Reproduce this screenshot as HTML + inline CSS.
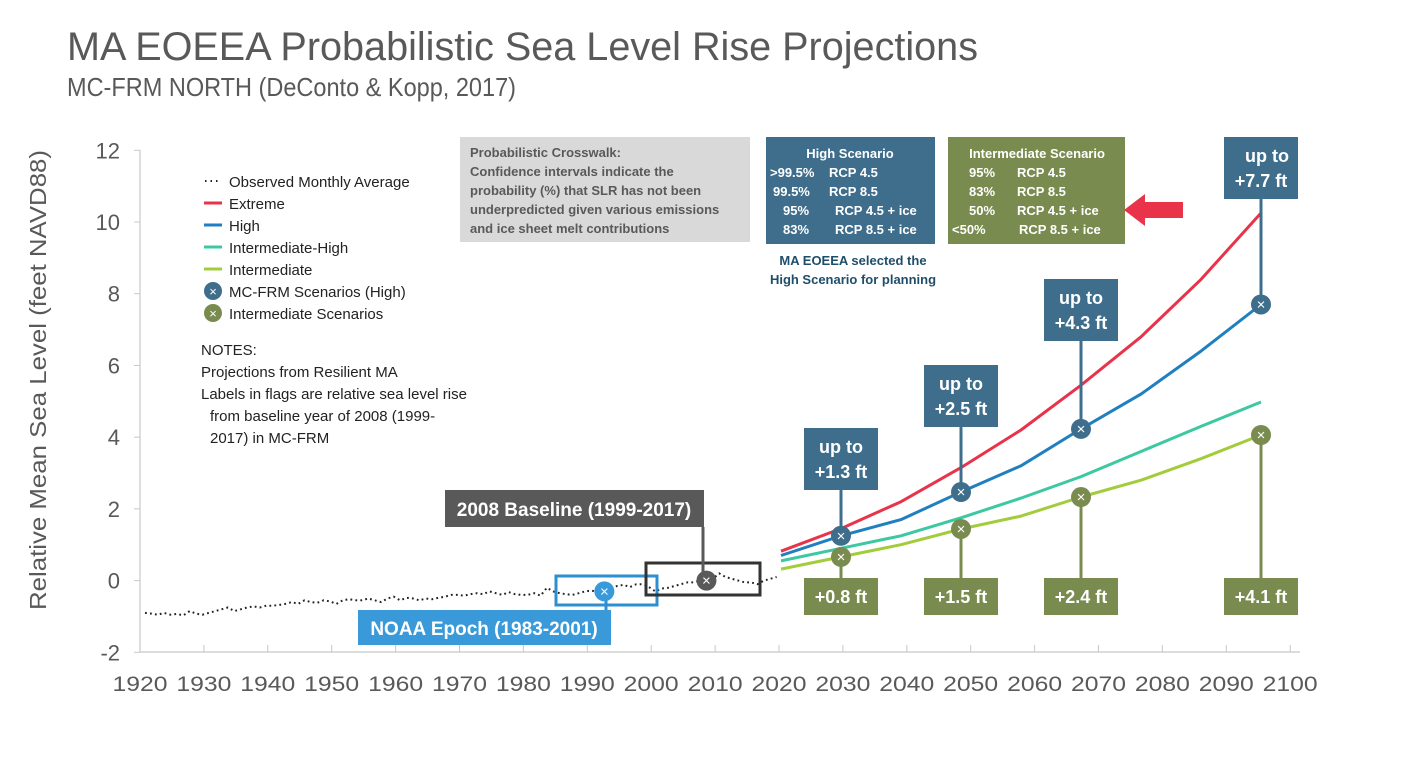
<!DOCTYPE html>
<html><head><meta charset="utf-8"><style>
html,body{margin:0;padding:0;background:#fff;}
svg{display:block;font-family:"Liberation Sans",sans-serif;}
</style></head><body>
<svg id="chart" width="1417" height="759" viewBox="0 0 1417 759">
<text x="67" y="60" font-size="40" fill="#595959" textLength="911" lengthAdjust="spacingAndGlyphs">MA EOEEA Probabilistic Sea Level Rise Projections</text>
<text x="67" y="96" font-size="26" fill="#595959" textLength="449" lengthAdjust="spacingAndGlyphs">MC-FRM NORTH (DeConto &amp; Kopp, 2017)</text>
<text transform="translate(46,380) rotate(-90)" text-anchor="middle" font-size="23" fill="#595959" textLength="460" lengthAdjust="spacingAndGlyphs">Relative Mean Sea Level (feet NAVD88)</text>
<g id="axes"></g>
<g id="series"></g>

<g font-size="15" fill="#222">
<line x1="205" y1="181" x2="220" y2="181" stroke="#222" stroke-width="2" stroke-dasharray="1.5 4"/>
<text x="229" y="187">Observed Monthly Average</text>
<line x1="204" y1="203" x2="222" y2="203" stroke="#e8334a" stroke-width="3"/>
<text x="229" y="209">Extreme</text>
<line x1="204" y1="225" x2="222" y2="225" stroke="#1f7fc0" stroke-width="3"/>
<text x="229" y="231">High</text>
<line x1="204" y1="247" x2="222" y2="247" stroke="#3cc8a0" stroke-width="3"/>
<text x="229" y="253">Intermediate-High</text>
<line x1="204" y1="269" x2="222" y2="269" stroke="#a3cc3c" stroke-width="3"/>
<text x="229" y="275">Intermediate</text>
<circle cx="213" cy="291" r="9" fill="#3f6e8c"/>
<text x="213" y="296" text-anchor="middle" fill="#fff" font-size="13">×</text>
<text x="229" y="297">MC-FRM Scenarios (High)</text>
<circle cx="213" cy="313" r="9" fill="#7a8b4f"/>
<text x="213" y="318" text-anchor="middle" fill="#fff" font-size="13">×</text>
<text x="229" y="319">Intermediate Scenarios</text>
</g>
<g font-size="15" fill="#222">
<text x="201" y="355">NOTES:</text>
<text x="201" y="377">Projections from Resilient MA</text>
<text x="201" y="399">Labels in flags are relative sea level rise</text>
<text x="210" y="421">from baseline year of 2008 (1999-</text>
<text x="210" y="443">2017) in MC-FRM</text>
</g>

<g>
<rect x="460" y="137" width="290" height="105" fill="#d9d9d9"/>
<g font-size="13" font-weight="bold" fill="#595959">
<text x="470" y="157">Probabilistic Crosswalk:</text>
<text x="470" y="176">Confidence intervals indicate the</text>
<text x="470" y="195">probability (%) that SLR has not been</text>
<text x="470" y="214">underpredicted given various emissions</text>
<text x="470" y="233">and ice sheet melt contributions</text>
</g></g>
<g>
<rect x="766" y="137" width="169" height="107" fill="#3f6e8c"/>
<g font-size="13" font-weight="bold" fill="#fff">
<text x="850" y="158" text-anchor="middle">High Scenario</text>
<text x="770" y="177">&gt;99.5%</text><text x="829" y="177">RCP 4.5</text>
<text x="773" y="196">99.5%</text><text x="829" y="196">RCP 8.5</text>
<text x="783" y="215">95%</text><text x="835" y="215">RCP 4.5 + ice</text>
<text x="783" y="234">83%</text><text x="835" y="234">RCP 8.5 + ice</text>
</g></g>
<g font-size="13" font-weight="bold" fill="#1f4e6b">
<text x="853" y="265" text-anchor="middle">MA EOEEA selected the</text>
<text x="853" y="284" text-anchor="middle">High Scenario for planning</text>
</g>
<g>
<rect x="948" y="137" width="177" height="107" fill="#7a8b4f"/>
<g font-size="13" font-weight="bold" fill="#fff">
<text x="1037" y="158" text-anchor="middle">Intermediate Scenario</text>
<text x="969" y="177">95%</text><text x="1017" y="177">RCP 4.5</text>
<text x="969" y="196">83%</text><text x="1017" y="196">RCP 8.5</text>
<text x="969" y="215">50%</text><text x="1017" y="215">RCP 4.5 + ice</text>
<text x="952" y="234">&lt;50%</text><text x="1019" y="234">RCP 8.5 + ice</text>
</g></g>
<polygon points="1124,210 1145,194 1145,202 1183,202 1183,218 1145,218 1145,226" fill="#e8334a"/>

<rect x="556" y="576" width="101" height="29" fill="none" stroke="#2e8fd0" stroke-width="3"/>
<rect x="646" y="563" width="114" height="32" fill="none" stroke="#333" stroke-width="3"/>
<g id="flags"></g>
</svg>
<script>
// ---- data ----
const yTicks = [-2, 0, 2, 4, 6, 8, 10, 12];
const xTickLabels = [1920,1930,1940,1950,1960,1970,1980,1990,2000,2010,2020,2030,2040,2050,2060,2070,2080,2090,2100];
const obsStartYear = 1920;
const observed = [-0.9,-0.92,-0.95,-0.9,-0.95,-0.93,-0.97,-0.85,-0.92,-0.95,
-0.9,-0.85,-0.8,-0.75,-0.85,-0.8,-0.75,-0.72,-0.75,-0.7,
-0.7,-0.68,-0.65,-0.6,-0.65,-0.55,-0.6,-0.62,-0.55,-0.58,
-0.65,-0.55,-0.52,-0.55,-0.55,-0.5,-0.55,-0.6,-0.5,-0.45,
-0.55,-0.48,-0.5,-0.55,-0.5,-0.52,-0.48,-0.45,-0.4,-0.4,
-0.42,-0.38,-0.35,-0.38,-0.3,-0.35,-0.4,-0.32,-0.38,-0.4,
-0.4,-0.35,-0.42,-0.2,-0.3,-0.35,-0.38,-0.4,-0.35,-0.3,
-0.28,-0.32,-0.3,-0.2,-0.15,-0.12,-0.18,-0.1,-0.1,-0.18,
-0.3,-0.22,-0.2,-0.15,-0.1,-0.05,-0.05,0.0,0.0,0.05,
0.2,0.1,0.05,0.0,-0.05,-0.05,-0.1,0.0,0.05,0.1];
const projYears = [2020,2030,2040,2050,2060,2070,2080,2090,2100];
const extreme = [0.82,1.45,2.2,3.15,4.2,5.45,6.8,8.4,10.25];
const high = [0.7,1.25,1.7,2.47,3.2,4.23,5.2,6.4,7.7];
const intHigh = [0.55,0.9,1.25,1.75,2.3,2.9,3.6,4.3,4.98];
const intermediate = [0.32,0.66,1.0,1.44,1.8,2.33,2.8,3.4,4.06];
const flagYears = [2030,2050,2070,2100];
const highFlagLabels = ["+1.3 ft","+2.5 ft","+4.3 ft","+7.7 ft"];
const intFlagLabels = ["+0.8 ft","+1.5 ft","+2.4 ft","+4.1 ft"];
const highFlagTops = [428,365,279,137];
const noaaYear = 1992, baseYear = 2008;

// ---- scales ----
const NS = "http://www.w3.org/2000/svg";
const yS = v => 580.6 - v * 35.86;
const xObs = yr => 145 + (yr - 1920) * 6.38;
const xProj = yr => 781 + (yr - 2020) * 6.0;
const xLab = yr => 140 + (yr - 1920) * 6.39;
function mk(tag, attrs, parent, txt){ const e=document.createElementNS(NS,tag); for(const k in attrs)e.setAttribute(k,attrs[k]); if(txt!==undefined)e.textContent=txt; parent.appendChild(e); return e;}
const axes=document.getElementById('axes'), series=document.getElementById('series'), flags=document.getElementById('flags');

let a=mk('line',{x1:140,y1:150,x2:140,y2:652,stroke:'#c8c8c8','stroke-width':1.2},axes);


a=mk('line',{x1:140,y1:652,x2:1300,y2:652,stroke:'#c8c8c8','stroke-width':1.2},axes);


yTicks.forEach(v=>{
  mk('line',{x1:134,y1:yS(v),x2:140,y2:yS(v),stroke:'#c8c8c8'},axes);
  const t=mk('text',{x:120,y:yS(v)+8,'text-anchor':'end','font-size':22,fill:'#595959'},axes,String(v));
  
  
});
xTickLabels.forEach(yr=>{
  if(yr>1920) mk('line',{x1:xLab(yr),y1:645,x2:xLab(yr),y2:652,stroke:'#c8c8c8'},axes);
  const t=mk('text',{x:xLab(yr)-27.5,y:691,'font-size':21,fill:'#595959',textLength:55,lengthAdjust:'spacingAndGlyphs'},axes,String(yr));
  
  
});

const obsPts=observed.map((v,i)=>xObs(obsStartYear+i).toFixed(1)+','+yS(v).toFixed(1)).join(' ');
let o=mk('polyline',{points:obsPts,fill:'none',stroke:'#222','stroke-width':2,'stroke-dasharray':'1.8 3.2'},series);


function line(arr,color,name){
  const pts=arr.map((v,i)=>xProj(projYears[i]).toFixed(1)+','+yS(v).toFixed(1)).join(' ');
  const l=mk('polyline',{points:pts,fill:'none',stroke:color,'stroke-width':3,'stroke-linejoin':'round'},series);
  
  
}
line(intermediate,'#a3cc3c','intermediate-line');
line(intHigh,'#3cc8a0','intermediate-high-line');
line(high,'#1f7fc0','high-line');
line(extreme,'#e8334a','extreme-line');

function marker(cx,cy,fill,name){
  const g=mk('g',{},flags);
  
  
  mk('circle',{cx:cx,cy:cy,r:10,fill:fill},g);
  mk('text',{x:cx,y:cy+5,'text-anchor':'middle','font-size':15,fill:'#fff'},g,'×');
}
mk('line',{x1:606,y1:yS(observed[noaaYear-1920]),x2:606,y2:645,stroke:'#2e8fd0','stroke-width':3},flags);
let r=mk('rect',{x:358,y:610,width:253,height:35,fill:'#3a9ad9'},flags);


mk('text',{x:484,y:635,'text-anchor':'middle','font-size':19,'font-weight':'bold',fill:'#fff'},flags,'NOAA Epoch (1983-2001)');
marker(xObs(noaaYear),yS(observed[noaaYear-1920]),'#3a9ad9','noaa-marker');
mk('line',{x1:703,y1:527,x2:703,y2:575,stroke:'#595959','stroke-width':3},flags);
r=mk('rect',{x:445,y:490,width:259,height:37,fill:'#595959'},flags);


mk('text',{x:574,y:516,'text-anchor':'middle','font-size':19,'font-weight':'bold',fill:'#fff'},flags,'2008 Baseline (1999-2017)');
marker(xObs(baseYear),yS(observed[baseYear-1920]),'#595959','baseline-marker');

flagYears.forEach((yr,i)=>{
  const idx=projYears.indexOf(yr);
  const cx=xProj(yr), hy=yS(high[idx]), iy=yS(intermediate[idx]);
  const top=highFlagTops[i];
  mk('line',{x1:cx,y1:top+60,x2:cx,y2:hy,stroke:'#3f6e8c','stroke-width':3},flags);
  mk('line',{x1:cx,y1:iy,x2:cx,y2:580,stroke:'#7a8b4f','stroke-width':3},flags);
  const f=mk('rect',{x:cx-37,y:top,width:74,height:62,fill:'#3f6e8c'},flags);
  
  
  mk('text',{x:cx+(i==3?6:0),y:top+25,'text-anchor':'middle','font-size':18,'font-weight':'bold',fill:'#fff'},flags,'up to');
  mk('text',{x:cx,y:top+50,'text-anchor':'middle','font-size':18,'font-weight':'bold',fill:'#fff'},flags,highFlagLabels[i]);
  const b=mk('rect',{x:cx-37,y:578,width:74,height:37,fill:'#7a8b4f'},flags);
  
  
  mk('text',{x:cx,y:603,'text-anchor':'middle','font-size':18,'font-weight':'bold',fill:'#fff'},flags,intFlagLabels[i]);
  marker(cx,hy,'#3f6e8c','high-marker-'+yr);
  marker(cx,iy,'#7a8b4f','intermediate-marker-'+yr);
});
</script>
</body></html>
